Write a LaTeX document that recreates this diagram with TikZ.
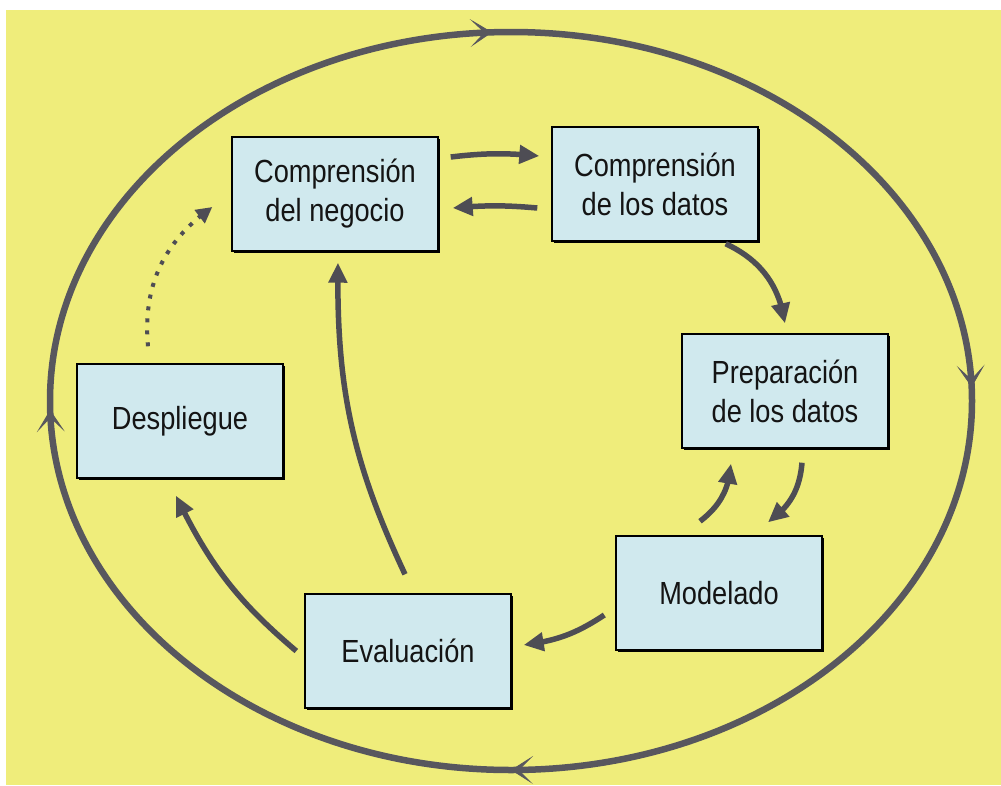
\documentclass[tikz,border=0pt]{standalone}
\usepackage{fontspec}
\setmainfont{Liberation Sans}[FakeStretch=0.85]
\usetikzlibrary{arrows.meta,bending,decorations.markings,shadows}

\definecolor{paper}{RGB}{239,237,123}
\definecolor{boxfill}{RGB}{208,233,238}
\definecolor{flowink}{RGB}{78,77,84}
\definecolor{ringink}{RGB}{88,87,94}

\begin{document}
\begin{tikzpicture}[x=1pt,y=-1pt,
  stage/.style={draw=black, line width=1.4pt, fill=boxfill,
    minimum width=206pt, minimum height=114pt, inner sep=0pt,
    align=center, text=black!92, font=\fontsize{32}{39}\selectfont,
    drop shadow={shadow xshift=1.5pt, shadow yshift=-2pt, fill=black, opacity=1}},
  flow/.style={draw=flowink, line width=5.5pt,
    -{Triangle[length=20pt,width=18pt]}},
  dotflow/.style={draw=flowink, line width=4pt, dash pattern=on 4pt off 8pt,
    -{Triangle[length=16pt,width=16pt]}},
  ringtip/.tip={Stealth[length=22pt,width=28pt,inset=14pt,line width=0.8pt,
    fill=ringink, color=ringink]},
  ring/.style={draw=ringink, line width=6.5pt,
    postaction={decorate, decoration={markings,
      mark=at position 0.25 with {\arrow{ringtip}},
      mark=at position 0.4966 with {\arrow{ringtip}},
      mark=at position 0.7428 with {\arrow{ringtip}},
      mark=at position 0.9947 with {\arrow{ringtip}}}}}
]
\useasboundingbox (0,0) rectangle (1001,785);
\fill[white] (0,0) rectangle (1001,785);
\fill[paper] (6,10) rectangle (1001,785);

% outer cycle
\coordinate (hub) at (511,401);
\draw[ring] (hub) ellipse [x radius=461, y radius=369];

% phases
\node[stage] (neg)  at (335,194) {Comprensión\\del negocio};
\node[stage] (dat)  at (655,184) {Comprensión\\de los datos};
\node[stage] (prep) at (785,391) {Preparación\\de los datos};
\node[stage] (desp) at (180,421) {Despliegue};
\node[stage] (mod)  at (719,593) {Modelado};
\node[stage] (eva)  at (408,651) {Evaluación};

% transitions between phases
\draw[flow] ([shift={(12,-37)}]neg.east) to[bend left=6] ([shift={(-12,-28)}]dat.west);
\draw[flow] ([shift={(-14,24)}]dat.west) to[bend right=5] ([shift={(14,14)}]neg.east);
\draw[flow] ([shift={(-33,2)}]dat.south east) to[bend left=28] ([shift={(0,-10)}]prep.north);
\draw[flow] ([shift={(17,14)}]prep.south) to[bend left=25] ([shift={(49,-13)}]mod.north);
\draw[flow] ([shift={(-19,-14)}]mod.north) to[bend right=24] ([shift={(-54,15)}]prep.south);
\draw[flow] ([shift={(-11,22)}]mod.west) to[bend left=13] ([shift={(12,-6)}]eva.east);
\draw[flow] ([shift={(-8,0)}]eva.west) to[bend left=12] ([shift={(-4,17)}]desp.south);
\draw[flow] ([shift={(-3,-19)}]eva.north) to[bend left=13] ([shift={(3,11)}]neg.south);
\draw[dotflow] ([shift={(-32,-17)}]desp.north) to[bend left=30] ([shift={(-19,13)}]neg.west);
\end{tikzpicture}
\end{document}
